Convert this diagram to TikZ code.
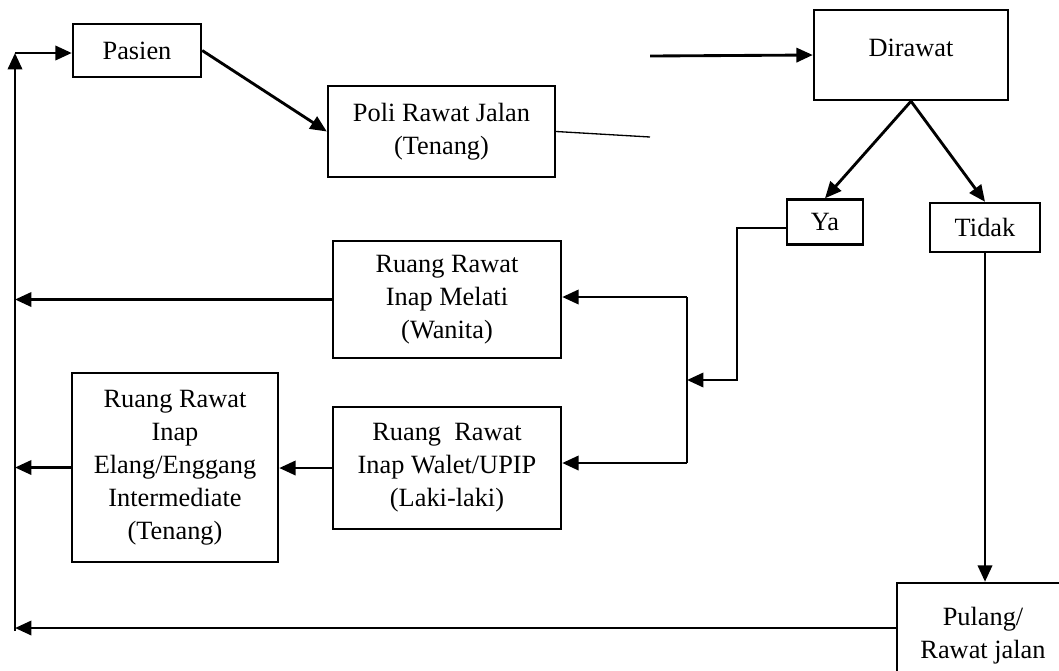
\documentclass[tikz,border=0pt]{standalone}
\usepackage{fontspec}
\setmainfont{Liberation Serif}
\usepackage{tikz}
\usetikzlibrary{arrows.meta,positioning,calc}

\begin{document}
\begin{tikzpicture}[x=0.016cm,y=-0.016cm,every node/.style={font=\fontsize{12}{15}\selectfont}]
\tikzstyle{box}=[draw,line width=1.1pt,fill=white,align=center,inner sep=0pt]
\tikzstyle{arr}=[-{Triangle[length=7.5pt,width=6.5pt]},line width=1.3pt]
\useasboundingbox (0,0) rectangle (1059,670);
\clip (0,0) rectangle (1059,670);
\node[box,minimum width=128*0.016cm,minimum height=53*0.016cm] (pasien) at (137,50.5) {Pasien};
\node[box,minimum width=227*0.016cm,minimum height=91*0.016cm] (poli) at (441.5,131.5) {Poli Rawat Jalan\\(Tenang)};
\node[box,minimum width=194*0.016cm,minimum height=90*0.016cm,text depth=7pt] (dirawat) at (911,55) {Dirawat};
\node[box,minimum width=76*0.016cm,minimum height=45*0.016cm] (ya) at (825,222) {Ya};
\node[box,minimum width=110*0.016cm,minimum height=49*0.016cm] (tidak) at (985,227.5) {Tidak};
\node[box,minimum width=228*0.016cm,minimum height=117*0.016cm] (melati) at (447,299.5) {Ruang Rawat\\Inap Melati\\(Wanita)};
\node[box,minimum width=228*0.016cm,minimum height=122*0.016cm] (walet) at (447,468) {Ruang\ \ Rawat\\Inap Walet/UPIP\\(Laki-laki)};
\node[box,minimum width=206*0.016cm,minimum height=189*0.016cm] (elang) at (175,467.5) {Ruang Rawat\\Inap\\Elang/Enggang\\Intermediate\\(Tenang)};
\node[box,minimum width=172*0.016cm,minimum height=106*0.016cm] (pulang) at (983,636) {Pulang/\\Rawat jalan};
% free ends and corners
\coordinate (poliEnd) at (650,137);
\coordinate (dirIn) at (650,56);
\coordinate (yaTurn) at (737,228);
\coordinate (yaDown) at (737,380);
\coordinate (brTop) at (687,297);
\coordinate (brMid) at (687,380);
\coordinate (brBot) at (687,463);
\coordinate (leftTop) at (15,53);
\coordinate (leftBot) at (15,628);
\coordinate (leftEnd) at (15,631);
% top row
\draw[arr] (pasien.east) -- (poli.west);
\draw[line width=0.6pt] (poli.east) -- (poliEnd);
\draw[arr] (dirIn) -- (dirawat.west);
\draw[arr] (dirawat.south) -- (ya.north);
\draw[arr] (dirawat.south) -- (tidak.north);
% ya branch
\draw[arr] (ya.west |- yaTurn) -- (yaTurn) -- (yaDown) -- (brMid);
\draw[line width=0.6pt] (brTop) -- (brBot);
\draw[arr] (brTop) -- (melati.east |- brTop);
\draw[arr] (brBot) -- (walet.east |- brBot);
\draw[arr] (walet.west) -- (elang.east |- walet.west);
\draw[arr] (melati.west) -- (leftTop |- melati.west);
\draw[arr] (elang.west) -- (leftTop |- elang.west);
% tidak branch
\draw[arr] (tidak.south) -- (tidak.south |- pulang.north);
\draw[arr] (pulang.west |- leftBot) -- (leftBot);
\draw[arr] (leftEnd) -- (leftTop);
\draw[arr] (leftTop) -- (pasien.west |- leftTop);
\end{tikzpicture}
\end{document}
